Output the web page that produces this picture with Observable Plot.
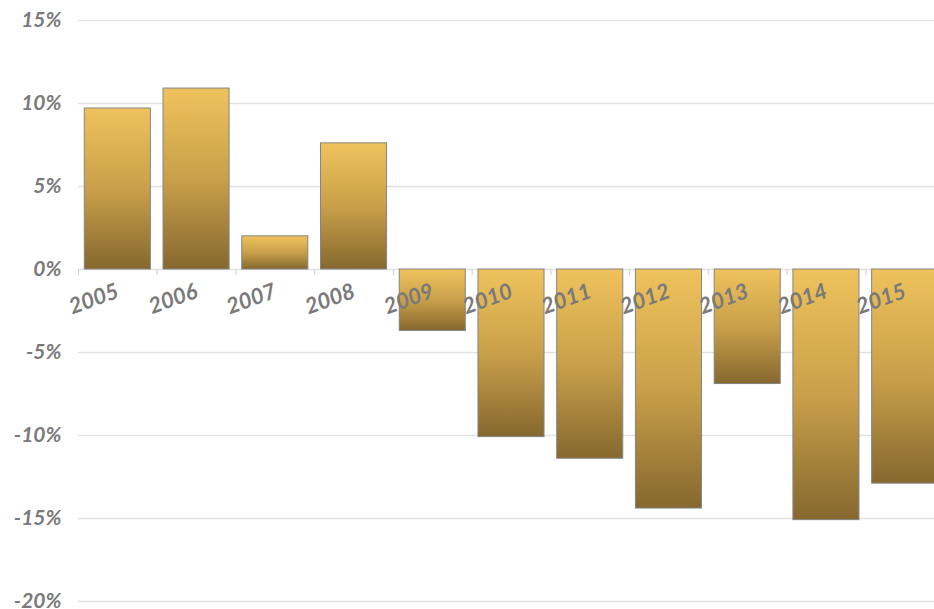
<!DOCTYPE html>
<html>
<head>
<meta charset="utf-8">
<script src="https://cdn.jsdelivr.net/npm/d3@7"></script>
<script src="https://cdn.jsdelivr.net/npm/@observablehq/plot@0.6"></script>
<style>
  html, body { margin: 0; padding: 0; background: #fff; overflow: hidden; }
  #chart { width: 934px; height: 609px; overflow: hidden; }
  #chart svg { max-width: none !important; height: 609px !important; }
</style>
</head>
<body>
<div id="chart"></div>
<script>
const years = ["2005","2006","2007","2008","2009","2010","2011","2012","2013","2014","2015"];
const values = [9.7, 10.9, 2.0, 7.6, -3.7, -10.1, -11.4, -14.4, -6.9, -15.1, -12.9];
const yTicks = [-20, -15, -10, -5, 0, 5, 10, 15];

const data = years.map((year, i) => ({year, value: values[i]}));

const textColor = "#7a7a7a";
const gridColor = "#e2e2e2";

function build(step) {
  const marks = [
    Plot.ruleY(yTicks, {stroke: gridColor, strokeWidth: 1.5}),
    Plot.axisY(yTicks, {
      label: null, tickSize: 0, tickPadding: 17, tickFormat: d => d + "%",
      fill: textColor, stroke: gridColor, strokeWidth: 1.5, line: true
    }),
    Plot.barY(data, {x: "year", y: "value", fill: "url(#gold)", stroke: "#858585", strokeWidth: 1})
  ];
  if (step) {
    marks.push(Plot.ruleX(years, {x: d => d, y1: 0, y2: -0.38, dx: -step / 2, stroke: "#d6d6d6", strokeWidth: 1.2}));
  }
  marks.push(Plot.text(years, {
    x: d => d, y: 0, text: d => d, rotate: -20, textAnchor: "end", lineAnchor: "middle",
    dy: 21, fill: textColor, fontSize: 22
  }));
  return Plot.plot({
    width: 944, height: 609,
    marginTop: 20, marginBottom: 8, marginLeft: 78, marginRight: 0,
    x: {domain: years, paddingInner: 0.161, paddingOuter: 0.08, round: false, axis: null},
    y: {domain: [-20, 15], axis: null},
    style: {fontFamily: "Lato, 'DejaVu Sans', sans-serif", fontSize: "21px", fontStyle: "italic", fontWeight: "bold", background: "#fff", overflow: "visible", maxWidth: "none"},
    marks
  });
}

const first = build(0);
const step = first.scale("x").step;
const chart = build(step);
const defs = document.createElementNS("http://www.w3.org/2000/svg", "defs");
defs.innerHTML = `<linearGradient id="gold" x1="0" y1="0" x2="0" y2="1">
  <stop offset="0" stop-color="#efc25c"/>
  <stop offset="0.5" stop-color="#c9a04a"/>
  <stop offset="1" stop-color="#86682f"/>
</linearGradient>`;
chart.insertBefore(defs, chart.firstChild);
document.getElementById("chart").appendChild(chart);
</script>
</body>
</html>
